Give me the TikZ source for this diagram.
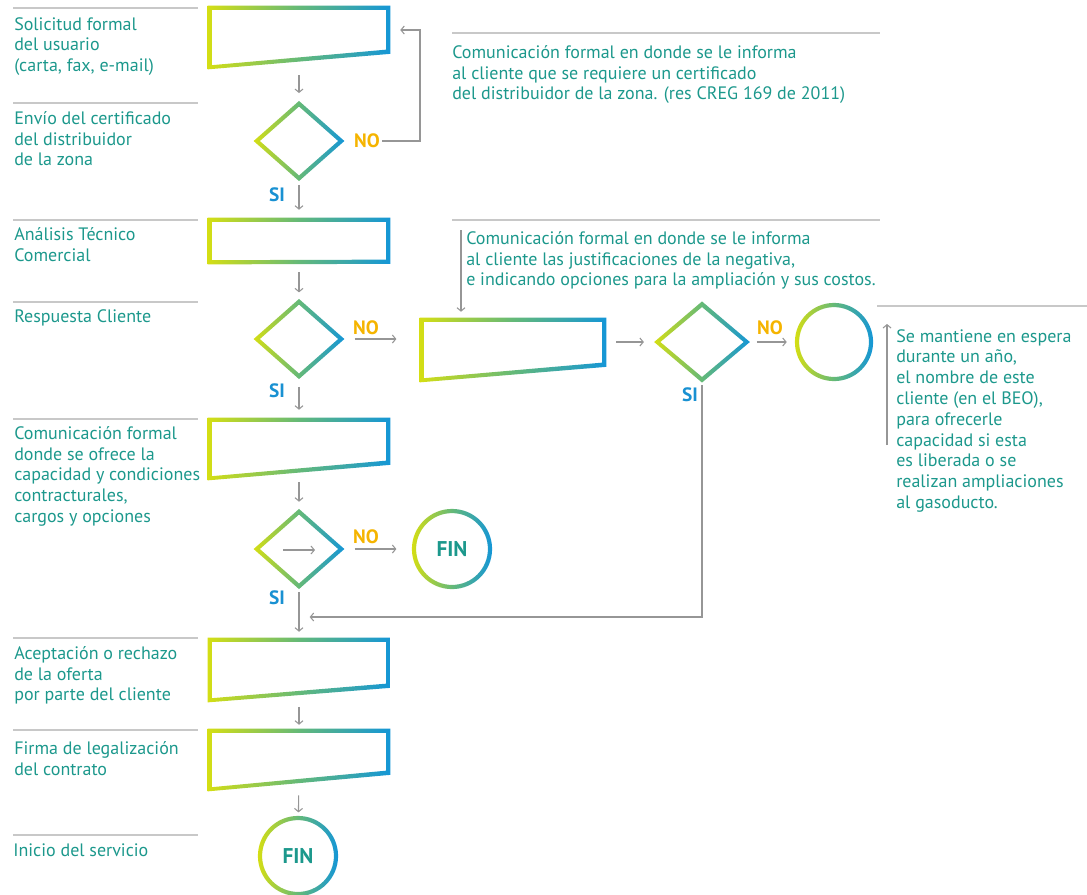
\documentclass[tikz,border=0pt]{standalone}
\usepackage{fontspec}
\setmainfont{PT Sans}
\usetikzlibrary{arrows.meta,calc}
\definecolor{tealtxt}{RGB}{28,152,140}
\definecolor{noor}{RGB}{245,180,0}
\definecolor{siblue}{RGB}{25,145,210}
\definecolor{arrgray}{RGB}{150,150,150}
\definecolor{sepgray}{RGB}{200,200,200}
\definecolor{gY}{RGB}{212,222,20}
\definecolor{gM}{RGB}{100,185,120}
\definecolor{gB}{RGB}{20,150,215}
\tikzset{
  arr/.style={draw=arrgray, line width=0.8pt, -{Straight Barb[length=2.5pt,width=6pt]}},
  sepline/.style={draw=sepgray, line width=2.2pt},
  lbl/.style={anchor=north west, inner sep=0pt, align=left, text=tealtxt, font=\fontsize{13.5}{15.6}\selectfont},
  nolbl/.style={text=noor, inner sep=1.5pt, font=\fontsize{14.5}{16}\selectfont\bfseries},
  silbl/.style={text=siblue, inner sep=1.5pt, font=\fontsize{14.5}{16}\selectfont\bfseries},
  grad/.style={left color=gY, right color=gB, middle color=gM},
  boxnode/.style n args={2}{rectangle, inner sep=0pt, minimum width=#1*0.75pt, minimum height=#2*0.75pt},
  dianode/.style n args={2}{rectangle, inner sep=0pt, minimum width=#1*0.75pt, minimum height=#2*0.75pt},
  cnode/.style={circle, inner sep=0pt, minimum size=#1*0.75pt, text=tealtxt, font=\fontsize{16}{18}\selectfont\bfseries},
}
\newcommand\trapring[2]{%
  \shade[grad,even odd rule]
   ($(#1.north west)+(-2.1,-2.1)$) -- ($(#1.north east)+(2.1,-2.1)$) -- ($(#1.north east)+(2.1,#2+2.1)$) -- ($(#1.south west)+(-2.1,2.1)$) -- cycle
   ($(#1.north west)+(2.1,2.1)$) -- ($(#1.north east)+(-2.1,2.1)$) -- ($(#1.north east)+(-2.1,#2-2.1)$) -- ($(#1.south west)+(2.1,-2.1)$) -- cycle;}
\newcommand\diaring[1]{%
  \shade[grad,even odd rule]
   ($(#1.west)+(-3.1,0)$) -- ($(#1.north)+(0,-2.8)$) -- ($(#1.east)+(3.1,0)$) -- ($(#1.south)+(0,2.8)$) -- cycle
   ($(#1.west)+(3.1,0)$) -- ($(#1.north)+(0,2.8)$) -- ($(#1.east)+(-3.1,0)$) -- ($(#1.south)+(0,-2.8)$) -- cycle;}
\newcommand\cirring[2]{%
  \shade[grad,even odd rule] (#1.center) circle[radius=#2+2.1] (#1.center) circle[radius=#2-2.1];}
\begin{document}
\begin{tikzpicture}[x=0.75pt,y=-0.75pt]
\useasboundingbox (0,0) rectangle (1087,894);
% separator lines
\draw[sepline] (13,8) -- (198,8);
\draw[sepline] (13,103) -- (198,103);
\draw[sepline] (13,220) -- (198,220);
\draw[sepline] (13,302) -- (198,302);
\draw[sepline] (13,419) -- (198,419);
\draw[sepline] (13,638) -- (198,638);
\draw[sepline] (13,730) -- (198,730);
\draw[sepline] (13,835) -- (198,835);
\draw[sepline] (452,33) -- (880,33);
\draw[sepline] (452,220) -- (880,220);
\draw[sepline] (877,306) -- (1087,306);
% left labels
\node[lbl] (l1) at (14,17) {Solicitud formal\\del usuario\\(carta, fax, e-mail)};
\node[lbl] (l2) at (14,111) {Envío del certificado\\del distribuidor\\de la zona};
\node[lbl] (l3) at (14,227) {Análisis Técnico\\Comercial};
\node[lbl] (l4) at (14,309) {Respuesta Cliente};
\node[lbl] (l5) at (14,426) {Comunicación formal\\donde se ofrece la\\capacidad y condiciones\\contracturales,\\cargos y opciones};
\node[lbl] (l6) at (14,646) {Aceptación o rechazo\\de la oferta\\por parte del cliente};
\node[lbl] (l7) at (14,741) {Firma de legalización\\del contrato};
\node[lbl] (l8) at (13,843) {Inicio del servicio};
% right texts
\node[lbl] (t1) at (452,45) {Comunicación formal en donde se le informa\\al cliente que se requiere un certificado\\del distribuidor de la zona. (res CREG 169 de 2011)};
\node[lbl] (t2) at (466,231) {Comunicación formal en donde se le informa\\al cliente las justificaciones de la negativa,\\e indicando opciones para la ampliación y sus costos.};
\node[lbl] (t3) at (896,329) {Se mantiene en espera\\durante un año,\\el nombre de este\\cliente (en el BEO),\\para ofrecerle\\capacidad si esta\\es liberada o se\\realizan ampliaciones\\al gasoducto.};
% shapes
\node[boxnode={178}{59}] (b1) at (299,37.5) {};
\node[dianode={84}{74}] (d1) at (299,141) {};
\node[boxnode={178}{42}] (b2) at (299,241) {};
\node[dianode={84}{74}] (d2) at (299,339) {};
\node[boxnode={182}{60}] (b3) at (513,350) {};
\node[dianode={89}{75}] (d3) at (702,342) {};
\node[cnode=74] (c1) at (834,342) {};
\node[boxnode={178}{58}] (b4) at (299,449) {};
\node[dianode={84}{74}] (d4) at (299,549) {};
\node[cnode=76] (fin1) at (452,549) {FIN};
\node[boxnode={178}{60}] (b5) at (299,670) {};
\node[boxnode={178}{58}] (b6) at (299,760) {};
\node[cnode=76] (fin2) at (298,856) {FIN};
\trapring{b1}{44}
\diaring{d1}
\trapring{b2}{42}
\diaring{d2}
\trapring{b3}{45}
\diaring{d3}
\cirring{c1}{37}
\trapring{b4}{43}
\diaring{d4}
\cirring{fin1}{38}
\trapring{b5}{46}
\trapring{b6}{42}
\cirring{fin2}{38}
% yes/no labels
\node[nolbl] (no1) at (367,141) {NO};
\node[silbl] (si1) at (277,195) {SI};
\node[nolbl] (no2) at (366,328) {NO};
\node[silbl] (si2) at (277,391) {SI};
\node[nolbl] (no3) at (770,328) {NO};
\node[silbl] (si3) at (690,395) {SI};
\node[nolbl] (no4) at (366,537) {NO};
\node[silbl] (si4) at (277,598) {SI};
% helper coordinates
\coordinate (k1) at (420,30);
\coordinate (k2) at (702,617);
\coordinate (t2a) at (461,230);
\coordinate (t3a) at (887,445);
\coordinate (t3b) at (887,324);
\coordinate (ia) at (283,550);
\coordinate (ib) at (315,550);
% connectors
\draw[arr, shorten <=6pt, shorten >=8pt] (b1) -- (d1);
\draw[arr, shorten >=9pt] (no1.east) -| (k1) -- (k1 -| b1.east);
\draw[arr, shorten <=5pt, shorten >=7.5pt] (d1) -- (b2);
\draw[arr, shorten <=7.5pt, shorten >=7pt] (b2) -- (d2);
\draw[arr, shorten <=10pt, shorten >=19pt] (d2.east) -- (d2.east -| b3.west);
\draw[arr, shorten <=8pt, shorten >=7.5pt] (d2) -- (b4);
\draw[arr, shorten >=6pt] (t2a) -- (t2a |- b3.north);
\draw[arr, shorten <=9pt, shorten >=10pt] (d3.west -| b3.east) -- (d3.west);
\draw[arr, shorten <=7.5pt, shorten >=7.5pt] (d3.east) -- (c1.west);
\draw[arr] (t3a) -- (t3b);
\draw[arr, shorten <=4pt, shorten >=8pt] (d3.south) -- (k2) -- (k2 -| d4);
\draw[arr, shorten <=3pt, shorten >=7.5pt] (b4) -- (d4);
\draw[arr] (ia) -- (ib);
\draw[arr, shorten <=10pt, shorten >=13pt] (d4.east) -- (fin1.west);
\draw[arr, shorten <=4.5pt, shorten >=6pt] (d4) -- (b5);
\draw[arr, shorten <=5pt, shorten >=4.5pt] (b5) -- (b6);
\draw[arr, shorten <=4.5pt, shorten >=4pt] (b6) -- (fin2);
\end{tikzpicture}
\end{document}
